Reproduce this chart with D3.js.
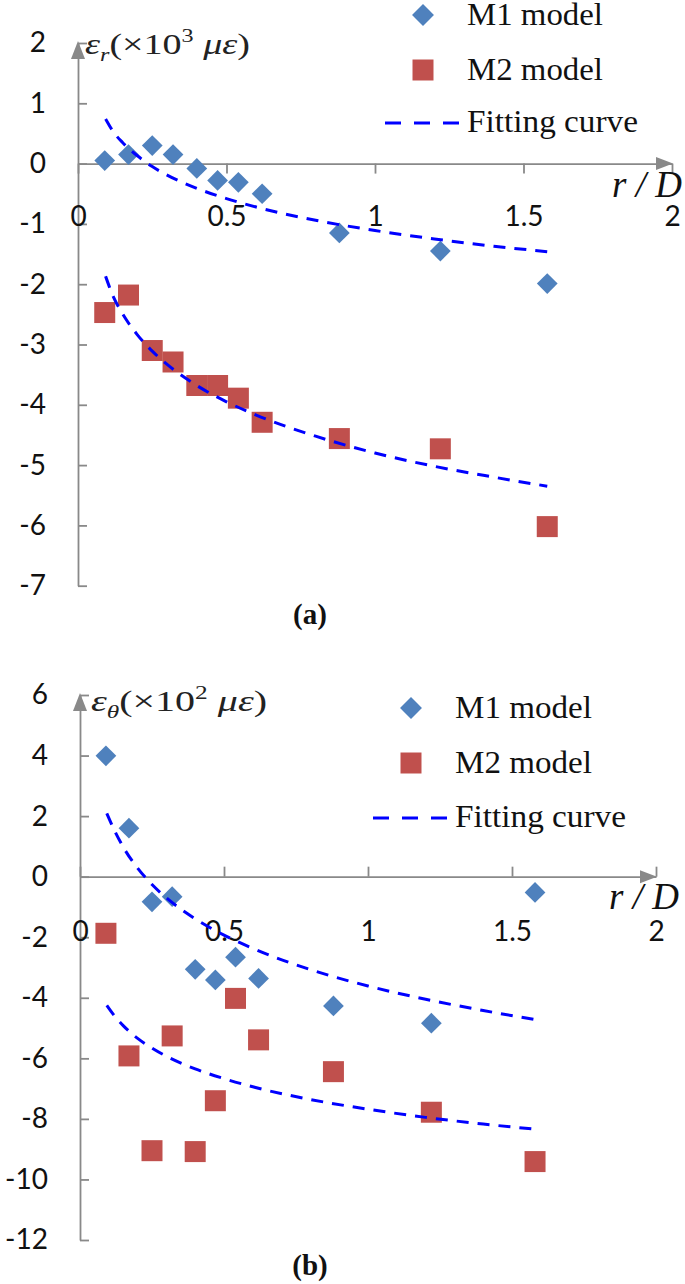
<!DOCTYPE html>
<html><head><meta charset="utf-8">
<script src="https://cdn.jsdelivr.net/npm/d3@7"></script>
<style>body{margin:0;background:#fff}</style>
</head><body>
<svg id="c" width="685" height="1284"></svg>
<script>
// ---- data ----
const rD   = [0.09,0.17,0.25,0.32,0.40,0.47,0.54,0.62,0.88,1.22,1.58];
const erM1 = [0.05,0.15,0.30,0.15,-0.08,-0.28,-0.31,-0.50,-1.15,-1.45,-1.99];
const erM2 = [-2.47,-2.18,-3.10,-3.29,-3.68,-3.68,-3.89,-4.29,-4.56,-4.73,-6.02];
const etM1 = [3.99,1.60,-0.83,-0.66,-3.06,-3.41,-2.66,-3.36,-4.27,-4.84,-0.52];
const etM2 = [-1.87,-5.92,-9.05,-5.26,-9.08,-7.40,-4.02,-5.39,-6.44,-7.78,-9.41];
const fitX   = [0.093,0.12,0.15,0.2,0.25,0.3,0.4,0.5,0.6,0.8,1.0,1.2,1.4,1.58];
const erFit1 = [0.74,0.52,0.35,0.13,-0.05,-0.19,-0.41,-0.58,-0.72,-0.94,-1.11,-1.25,-1.37,-1.46];
const erFit2 = [-1.87,-2.22,-2.49,-2.84,-3.11,-3.33,-3.68,-3.95,-4.17,-4.52,-4.80,-5.02,-5.20,-5.35];
const etFit1 = [2.09,1.52,0.98,0.28,-0.26,-0.70,-1.39,-1.93,-2.37,-3.07,-3.61,-4.05,-4.42,-4.72];
const etFit2 = [-4.25,-4.60,-4.92,-5.34,-5.66,-5.93,-6.35,-6.67,-6.94,-7.36,-7.68,-7.95,-8.17,-8.34];
const xTicks = [0,0.5,1,1.5,2];
const xTickLabels = ["0","0.5","1","1.5","2"];
const yTicksA = [-7,-6,-5,-4,-3,-2,-1,0,1,2];
const yTicksB = [-12,-10,-8,-6,-4,-2,0,2,4,6];
const legendLabels = ["M1 model","M2 model","Fitting curve"];
const captions = ["(a)","(b)"];

const C1 = "#4F81BD", C2 = "#C0504D", CF = "#0000FF", AX = "#898989";
const svg = d3.select("#c");

function panel(o){
  const g = svg.append("g");
  const x = d3.scaleLinear().domain([0,2]).range(o.xr);
  const y = d3.scaleLinear().domain(o.yd).range(o.yr);
  // y axis
  const ya = g.append("g").attr("transform",`translate(${x(0)},0)`)
    .call(d3.axisLeft(y).tickValues(o.yTicks).tickSizeInner(-9).tickSizeOuter(0).tickPadding(32).tickFormat(d3.format("d")));
  ya.select(".domain").attr("stroke",AX).attr("stroke-width",1.8);
  ya.selectAll(".tick line").attr("stroke",AX).attr("stroke-width",1.8);
  ya.selectAll(".tick text").attr("font-family","Lato, 'Open Sans', sans-serif").attr("font-size",28).attr("fill","#111")
    .text(d=>d<0?"-"+Math.abs(d):d);
  // x axis
  const xa = g.append("g").attr("transform",`translate(0,${y(0)})`)
    .call(d3.axisBottom(x).tickValues(xTicks).tickSizeInner(o.xTickDir*10).tickSizeOuter(0).tickFormat((d,i)=>xTickLabels[i]));
  xa.select(".domain").attr("stroke",AX).attr("stroke-width",1.8);
  xa.selectAll(".tick line").attr("stroke",AX).attr("stroke-width",1.8);
  xa.selectAll(".tick text").attr("font-family","Lato, 'Open Sans', sans-serif").attr("font-size",28).attr("fill","#111")
    .attr("y",o.xLabOff).attr("dy","0.35em");
  // arrows
  const top = y(o.yd[1]), x0 = x(0), xe = x(2), y0 = y(0);
  g.append("path").attr("d",`M${x0},${top-2}L${x0-7},${top+16}L${x0+7},${top+16}Z`).attr("fill",AX);
  g.append("path").attr("d",`M${xe+1},${y0}L${xe-16},${y0-6.5}L${xe-16},${y0+6.5}Z`).attr("fill",AX);

  // markers
  const sq = d3.symbol(d3.symbolSquare, 441);
  const dm = d3.symbol(d3.symbolSquare, 215);
  g.selectAll(".m2").data(rD.map((r,i)=>[r,o.m2[i]])).join("path")
    .attr("d",sq).attr("fill",C2).attr("transform",d=>`translate(${x(d[0])},${y(d[1])})`);
  g.selectAll(".m1").data(rD.map((r,i)=>[r,o.m1[i]])).join("path")
    .attr("d",dm).attr("fill",C1).attr("transform",d=>`translate(${x(d[0])},${y(d[1])}) rotate(45)`);
  // fitting curves
  const line = d3.line().x(d=>x(d[0])).y(d=>y(d[1])).curve(d3.curveMonotoneX);
  [o.f1,o.f2].forEach(f=>{
    g.append("path").attr("d",line(fitX.map((r,i)=>[r,f[i]])))
      .attr("fill","none").attr("stroke",CF).attr("stroke-width",3).attr("stroke-dasharray","12,9");
  });

  // axis titles
  const t = g.append("text").attr("x",o.tx).attr("y",o.ty).attr("font-family","'Liberation Serif', serif")
    .attr("font-size",30).attr("fill","#222").attr("textLength",o.tw).attr("lengthAdjust","spacingAndGlyphs");
  t.append("tspan").attr("font-style","italic").text("ε");
  t.append("tspan").attr("font-style","italic").attr("font-size",19).attr("dy",7).text(o.sub);
  t.append("tspan").attr("dy",-7).text("(×10");
  t.append("tspan").attr("font-size",19).attr("dy",-12).text(o.sup);
  t.append("tspan").attr("dy",12).attr("font-style","italic").text(" με");
  t.append("tspan").text(")");
  g.append("text").attr("x",o.rdx).attr("y",o.rdy).attr("font-family","'Liberation Serif', serif")
    .attr("font-style","italic").attr("font-size",37).attr("fill","#111").text("r / D");

  // legend
  const L = o.leg;
  g.append("path").attr("d",d3.symbol(d3.symbolSquare,240)).attr("fill",C1)
    .attr("transform",`translate(${L.sx},${L.y[0]-10}) rotate(45)`);
  g.append("path").attr("d",d3.symbol(d3.symbolSquare,441)).attr("fill",C2)
    .attr("transform",`translate(${L.sx},${L.y[1]-10})`);
  g.append("line").attr("x1",L.lx0).attr("x2",L.lx1).attr("y1",L.y[2]-9).attr("y2",L.y[2]-9)
    .attr("stroke",CF).attr("stroke-width",3.2).attr("stroke-dasharray","16,13");
  legendLabels.forEach((s,i)=>{
    g.append("text").attr("x",L.tx).attr("y",L.y[i]).attr("font-family","'Liberation Serif', serif")
      .attr("font-size",31).attr("fill","#111").attr("textLength",L.w[i]).attr("lengthAdjust","spacingAndGlyphs").text(s);
  });
  g.append("text").attr("x",o.cx).attr("y",o.cy).attr("text-anchor","middle").attr("font-family","'Liberation Serif', serif")
    .attr("font-weight","bold").attr("font-size",29).attr("fill","#111").text(o.cap);
}

panel({xr:[78,672], yd:[-7,2], yr:[585.7,43], yTicks:yTicksA, xTickDir:1, xLabOff:53,
  m1:erM1, m2:erM2, f1:erFit1, f2:erFit2, tx:85, ty:54, tw:165, sub:"r", sup:"3",
  rdx:612, rdy:197,
  leg:{sx:423, y:[25,80,132], lx0:385, lx1:462, tx:467, w:[136,136,171]},
  cx:310, cy:624, cap:captions[0]});
panel({xr:[80,656], yd:[-12,6], yr:[1240,695], yTicks:yTicksB, xTickDir:-1, xLabOff:55,
  m1:etM1, m2:etM2, f1:etFit1, f2:etFit2, tx:91, ty:711, tw:176, sub:"θ", sup:"2",
  rdx:609, rdy:909,
  leg:{sx:411, y:[718,773,827], lx0:373, lx1:448, tx:455, w:[137,137,171]},
  cx:310, cy:1275, cap:captions[1]});
</script>
</body></html>
